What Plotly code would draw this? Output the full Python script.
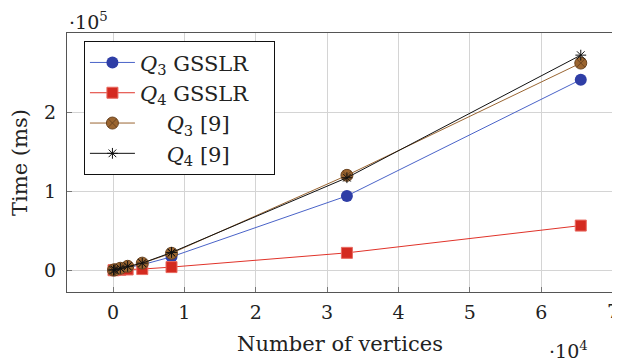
import plotly.graph_objects as go

vertices = [64, 256, 1024, 2048, 4096, 8192, 32768, 65536]
q3_gsslr = [100, 400, 1500, 3000, 7000, 17000, 94000, 241000]
q4_gsslr = [50, 200, 600, 1000, 1500, 4000, 22000, 56500]
q3_ref = [200, 600, 2500, 5000, 9000, 21500, 120000, 262000]
q4_ref = [200, 600, 2500, 5000, 9000, 22500, 117000, 272000]

x_tickvals = [0, 10000, 20000, 30000, 40000, 50000, 60000, 70000]
x_ticktext = ["0", "1", "2", "3", "4", "5", "6", "7"]
y_tickvals = [0, 100000, 200000]
y_ticktext = ["0", "1", "2"]

FONT = "DejaVu Serif"
NB = "\u00a0"

fig = go.Figure()
fig.add_trace(go.Scatter(
    x=vertices, y=q3_gsslr, mode="lines+markers",
    name="<i>Q</i><sub>3</sub>" + NB + "GSSLR" + NB * 3,
    line=dict(color="#4a63c8", width=1),
    marker=dict(symbol="circle", size=12, color="#2f3ea6", line=dict(width=0)),
))
fig.add_trace(go.Scatter(
    x=vertices, y=q4_gsslr, mode="lines+markers",
    name="<i>Q</i><sub>4</sub>" + NB + "GSSLR" + NB * 3,
    line=dict(color="#e0332a", width=1),
    marker=dict(symbol="square", size=11, color="#d42a20", line=dict(width=1, color="#e86a60")),
))
fig.add_trace(go.Scatter(
    x=vertices, y=q3_ref, mode="lines+markers",
    name=NB * 4 + "<i>Q</i><sub>3</sub>" + NB + "[9]",
    line=dict(color="#9a6633", width=1),
    marker=dict(symbol="circle-x", size=12, color="#9b6530", line=dict(width=1, color="#6b4420")),
))
fig.add_trace(go.Scatter(
    x=vertices, y=q4_ref, mode="lines+markers",
    name=NB * 4 + "<i>Q</i><sub>4</sub>" + NB + "[9]",
    line=dict(color="#111111", width=1),
    marker=dict(symbol="asterisk-open", size=9, color="#111111", line=dict(width=1, color="#111111")),
))

# the page body adds an 8px offset, so the figure is sized 8px smaller
fig.update_layout(
    width=612, height=355,
    margin=dict(l=59, r=7, t=25, b=71, autoexpand=False),
    paper_bgcolor="white", plot_bgcolor="white",
    font=dict(family=FONT, size=17, color="#222222"),
    showlegend=True,
    legend=dict(
        x=0.031, y=0.968, xanchor="left", yanchor="top",
        bgcolor="white", bordercolor="#111111", borderwidth=1,
        font=dict(family=FONT, size=21, color="#222222"),
        itemwidth=45, tracegroupgap=0,
    ),
    xaxis=dict(
        range=[-6450, 70050], tickvals=x_tickvals[:-1], ticktext=x_ticktext[:-1],
        showgrid=True, gridcolor="#d4d4d4", gridwidth=1, automargin=False,
        zeroline=False, showline=True, linecolor="#555555", linewidth=1, mirror=True,
        ticks="inside", ticklen=5, tickcolor="#777777", ticklabelstandoff=3,
        title=dict(text="Number of vertices", font=dict(family=FONT, size=21), standoff=14),
        tickfont=dict(family=FONT, size=19),
    ),
    yaxis=dict(
        range=[-27500, 300000], tickvals=y_tickvals, ticktext=y_ticktext,
        showgrid=True, gridcolor="#d4d4d4", gridwidth=1, automargin=False,
        zeroline=False, showline=True, linecolor="#555555", linewidth=1, mirror=True,
        ticks="inside", ticklen=5, tickcolor="#777777", ticklabelstandoff=6,
        title=dict(text="Time (ms)", font=dict(family=FONT, size=21), standoff=20),
        tickfont=dict(family=FONT, size=19),
    ),
)

# last x tick label sits on the right frame edge; drawn as an annotation so it is not hidden
fig.add_annotation(x=x_tickvals[-1], y=0, xref="x", yref="paper", xanchor="center", yanchor="top",
                   text=x_ticktext[-1], showarrow=False, yshift=-6,
                   font=dict(family=FONT, size=19, color="#222222"))

fig.add_annotation(x=0.0, y=1.0, xref="paper", yref="paper", xanchor="left", yanchor="bottom",
                   text="\u00b710<sup>5</sup>", showarrow=False, yshift=-2,
                   font=dict(family=FONT, size=19, color="#222222"))
fig.add_annotation(x=0.958, y=0.0, xref="paper", yref="paper", xanchor="right", yanchor="top",
                   text="\u00b710<sup>4</sup>", showarrow=False, yshift=-44,
                   font=dict(family=FONT, size=19, color="#222222"))

fig.write_html("out.html")
